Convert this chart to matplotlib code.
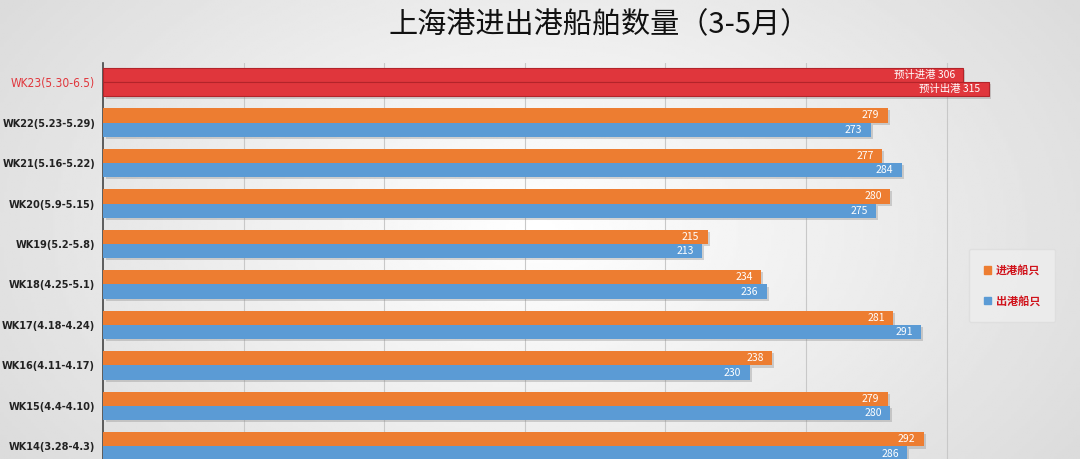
import matplotlib.pyplot as plt
import matplotlib.patheffects as pe
import numpy as np

plt.rcParams['font.family'] = ['Noto Sans CJK SC', 'DejaVu Sans']

weeks = ['WK23(5.30-6.5)', 'WK22(5.23-5.29)', 'WK21(5.16-5.22)', 'WK20(5.9-5.15)',
         'WK19(5.2-5.8)', 'WK18(4.25-5.1)', 'WK17(4.18-4.24)', 'WK16(4.11-4.17)',
         'WK15(4.4-4.10)', 'WK14(3.28-4.3)']
inbound = [306, 279, 277, 280, 215, 234, 281, 238, 279, 292]
outbound = [315, 273, 284, 275, 213, 236, 291, 230, 280, 286]
legend_labels = ['进港船只', '出港船只']
title = '上海港进出港船舶数量（3-5月）'

orange = '#ED7D31'
blue = '#5B9BD5'
red = '#E0363C'

fig = plt.figure(figsize=(10.8, 4.59), dpi=100)

# background gradient
bg = fig.add_axes([0, 0, 1, 1], zorder=-10)
xs = np.linspace(-1, 1, 400)
ys = np.linspace(-1, 1, 200)
X, Y = np.meshgrid(xs, ys)
shade = 1 - 0.13 * np.clip(np.sqrt((X * 0.9) ** 2 + (Y * 0.6) ** 2), 0, 1.2)
bg.imshow(shade, cmap='gray', vmin=0, vmax=1, aspect='auto', extent=[0, 1, 0, 1])
bg.axis('off')

ax = fig.add_axes([0.0958, 0.0, 0.9042, 0.8627])
ax.patch.set_alpha(0)

y = np.arange(len(weeks))
h = 0.355
shadow = [pe.SimplePatchShadow(offset=(1.5, -1.5), shadow_rgbFace='#888888', alpha=0.35), pe.Normal()]

in_colors = [red] + [orange] * (len(weeks) - 1)
out_colors = [red] + [blue] * (len(weeks) - 1)
b1 = ax.barh(y - h / 2, inbound, height=h, color=in_colors, label=legend_labels[0], zorder=3)
b2 = ax.barh(y + h / 2, outbound, height=h, color=out_colors, label=legend_labels[1], zorder=3)
for bar in list(b1) + list(b2):
    bar.set_path_effects(shadow)
for bar in (b1[0], b2[0]):
    bar.set_edgecolor('#b3242a')
    bar.set_linewidth(0.8)

for i in range(len(weeks)):
    t1 = f'预计进港 {inbound[i]}' if i == 0 else str(inbound[i])
    t2 = f'预计出港 {outbound[i]}' if i == 0 else str(outbound[i])
    ax.text(inbound[i] - 3, y[i] - h / 2, t1, color='white', fontsize=7.5,
            ha='right', va='center', zorder=4)
    ax.text(outbound[i] - 3, y[i] + h / 2, t2, color='white', fontsize=7.5,
            ha='right', va='center', zorder=4)

ax.set_xlim(0, 347.5)
ax.set_ylim(9.31, -0.47)
ax.set_xticks(np.arange(50, 350, 50))
ax.set_xticklabels([])
ax.tick_params(axis='x', length=0)
ax.grid(axis='x', color='#c8c8c8', linewidth=0.8, zorder=0)
ax.set_yticks(y)
ax.set_yticklabels(weeks, fontsize=7.8, fontweight='bold', color='#222222',
                   family='DejaVu Sans', fontstretch='condensed')
first = ax.get_yticklabels()[0]
first.set_color(red)
first.set_fontweight('normal')
first.set_fontsize(8.6)
ax.tick_params(axis='y', length=0, pad=6)
for s in ['top', 'right', 'bottom']:
    ax.spines[s].set_visible(False)
ax.spines['left'].set_color('#444444')
ax.spines['left'].set_linewidth(1.2)

handles = [plt.Rectangle((0, 0), 1, 1, color=orange), plt.Rectangle((0, 0), 1, 1, color=blue)]
leg = fig.legend(handles, legend_labels, loc='center', bbox_to_anchor=(0.937, 0.378),
                 fontsize=8, frameon=True, facecolor='#eeeeee', edgecolor='#dddddd',
                 handlelength=0.7, handleheight=0.7, labelspacing=1.6, borderpad=1.3,
                 handletextpad=0.4)
for t in leg.get_texts():
    t.set_color('#d0121b')
    t.set_fontweight('bold')

fig.text(0.555, 0.945, title, ha='center', va='center', fontsize=21, color='#111111')

fig.savefig('out.png', dpi=100)
